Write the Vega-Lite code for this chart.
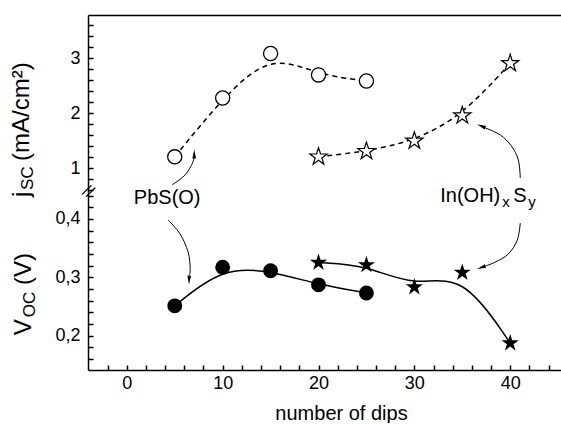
{
  "$schema": "https://vega.github.io/schema/vega-lite/v6.json",
  "background": "white",
  "padding": {"left": 10, "top": 15, "right": 0, "bottom": 0},
  "spacing": 0,
  "bounds": "flush",
  "config": {
    "view": {"stroke": null},
    "font": "Liberation Sans",
    "axis": {
      "grid": false,
      "domainColor": "black",
      "domainWidth": 1.5,
      "tickColor": "black",
      "tickWidth": 1.5,
      "labelColor": "black",
      "labelFont": "Liberation Sans",
      "labelFontSize": 18,
      "labelOverlap": false,
      "titleFont": "Liberation Sans",
      "titleFontSize": 20,
      "titleFontWeight": "normal",
      "titleColor": "black"
    }
  },
  "datasets": {
    "pts": [
      {"series": "PbS(O)", "dips": 5, "jsc": 1.21, "voc": 0.251},
      {"series": "PbS(O)", "dips": 10, "jsc": 2.28, "voc": 0.317},
      {"series": "PbS(O)", "dips": 15, "jsc": 3.09, "voc": 0.311},
      {"series": "PbS(O)", "dips": 20, "jsc": 2.70, "voc": 0.287},
      {"series": "PbS(O)", "dips": 25, "jsc": 2.59, "voc": 0.273},
      {"series": "In(OH)xSy", "dips": 20, "jsc": 1.21, "voc": 0.325},
      {"series": "In(OH)xSy", "dips": 25, "jsc": 1.31, "voc": 0.321},
      {"series": "In(OH)xSy", "dips": 30, "jsc": 1.50, "voc": 0.283},
      {"series": "In(OH)xSy", "dips": 35, "jsc": 1.96, "voc": 0.308},
      {"series": "In(OH)xSy", "dips": 40, "jsc": 2.91, "voc": 0.187}
    ],
    "arrowsTop": [
      {"a": "p", "i": 1, "dips": 4.73, "jsc": 0.699},
      {"a": "p", "i": 2, "dips": 5.98, "jsc": 0.863},
      {"a": "p", "i": 3, "dips": 6.71, "jsc": 1.045},
      {"a": "p", "i": 4, "dips": 7.03, "jsc": 1.19},
      {"a": "i", "i": 1, "dips": 41.05, "jsc": 0.826},
      {"a": "i", "i": 2, "dips": 40.85, "jsc": 1.154},
      {"a": "i", "i": 3, "dips": 40.12, "jsc": 1.408},
      {"a": "i", "i": 4, "dips": 38.97, "jsc": 1.608},
      {"a": "i", "i": 5, "dips": 37.40, "jsc": 1.735}
    ],
    "headsTop": [
      {"a": "p", "dips": 7.03, "jsc": 1.263},
      {"a": "i", "dips": 36.98, "jsc": 1.772}
    ],
    "arrowsBot": [
      {"a": "p", "i": 1, "dips": 4.31, "voc": 0.398},
      {"a": "p", "i": 2, "dips": 5.56, "voc": 0.374},
      {"a": "p", "i": 3, "dips": 6.40, "voc": 0.343},
      {"a": "p", "i": 4, "dips": 6.61, "voc": 0.3156},
      {"a": "p", "i": 5, "dips": 6.53, "voc": 0.303},
      {"a": "i", "i": 1, "dips": 41.05, "voc": 0.3928},
      {"a": "i", "i": 2, "dips": 40.74, "voc": 0.3637},
      {"a": "i", "i": 3, "dips": 39.80, "voc": 0.3397},
      {"a": "i", "i": 4, "dips": 38.44, "voc": 0.3259},
      {"a": "i", "i": 5, "dips": 37.40, "voc": 0.3191}
    ],
    "headsBot": [
      {"a": "p", "dips": 6.50, "voc": 0.2951},
      {"a": "i", "dips": 36.98, "voc": 0.3165}
    ],
    "notesTop": [
      {"role": "main", "t": "j", "dips": -10.19, "jsc": 0.481},
      {"role": "sub", "t": "SC", "dips": -9.77, "jsc": 0.608},
      {"role": "main", "t": "(mA/cm²)", "dips": -10.19, "jsc": 1.135},
      {"role": "break", "t": "//", "dips": -4.05, "jsc": 0.57}
    ],
    "notesBot": [
      {"role": "main", "t": "V", "dips": -9.99, "voc": 0.2007},
      {"role": "sub", "t": "OC", "dips": -9.57, "voc": 0.2316},
      {"role": "main", "t": "(V)", "dips": -9.99, "voc": 0.2865},
      {"role": "label", "t": "PbS(O)", "dips": 4.21, "voc": 0.4349},
      {"role": "lmain", "t": "In(OH)", "dips": 32.70, "voc": 0.4294},
      {"role": "lmain", "t": "S", "dips": 40.33, "voc": 0.4294},
      {"role": "lsub", "t": "x", "dips": 39.18, "voc": 0.4203},
      {"role": "lsub", "t": "y", "dips": 41.89, "voc": 0.4203}
    ]
  },
  "vconcat": [
    {
      "width": 473,
      "height": 177,
      "encoding": {
        "x": {
          "field": "dips", "type": "quantitative",
          "scale": {"domain": [-4.05, 45.3], "nice": false, "zero": false},
          "axis": {"orient": "top", "labels": false, "ticks": false, "title": null}
        },
        "y": {
          "field": "jsc", "type": "quantitative",
          "scale": {"domain": [0.57, 3.79], "nice": false, "zero": false},
          "axis": {
            "title": null,
            "values": [0.6, 0.8, 1, 1.2, 1.4, 1.6, 1.8, 2, 2.2, 2.4, 2.6, 2.8, 3, 3.2, 3.4, 3.6],
            "labelExpr": "abs(datum.value - round(datum.value)) < 0.001 ? format(datum.value, 'd') : ''",
            "tickSize": -5,
            "labelPadding": 13
          }
        }
      },
      "layer": [
        {
          "data": {"name": "pts"},
          "mark": {"type": "line", "interpolate": "basis", "strokeDash": [5, 4], "strokeWidth": 1.5, "color": "black"},
          "encoding": {"detail": {"field": "series"}}
        },
        {
          "data": {"name": "pts"},
          "transform": [{"filter": "datum.series === 'PbS(O)'"}],
          "mark": {"type": "point", "shape": "circle", "filled": true, "fill": "white", "stroke": "black", "strokeWidth": 1.3, "size": 200, "opacity": 1},
          "encoding": {}
        },
        {
          "data": {"name": "pts"},
          "transform": [{"filter": "datum.series !== 'PbS(O)'"}],
          "mark": {"type": "point", "shape": "M0,-1L0.225,-0.309L0.951,-0.309L0.363,0.118L0.588,0.809L0,0.382L-0.588,0.809L-0.363,0.118L-0.951,-0.309L-0.225,-0.309Z", "filled": true, "fill": "white", "stroke": "black", "strokeWidth": 1.2, "size": 330, "opacity": 1},
          "encoding": {}
        },
        {
          "data": {"name": "arrowsTop"},
          "mark": {"type": "line", "interpolate": "cardinal", "strokeWidth": 1, "color": "black"},
          "encoding": {"detail": {"field": "a"}, "order": {"field": "i", "type": "quantitative"}}
        },
        {
          "data": {"name": "headsTop"},
          "transform": [{"filter": "datum.a === 'p'"}],
          "mark": {"type": "point", "shape": "M0,-1L0.42,1L-0.42,1Z", "filled": true, "color": "black", "opacity": 1, "size": 80, "angle": 0},
          "encoding": {}
        },
        {
          "data": {"name": "headsTop"},
          "transform": [{"filter": "datum.a === 'i'"}],
          "mark": {"type": "point", "shape": "M0,-1L0.42,1L-0.42,1Z", "filled": true, "color": "black", "opacity": 1, "size": 80, "angle": 293},
          "encoding": {}
        },
        {
          "data": {"name": "notesTop"},
          "transform": [{"filter": "datum.role === 'main'"}],
          "mark": {"type": "text", "angle": 270, "align": "left", "baseline": "alphabetic", "fontSize": 24, "font": "Liberation Sans", "color": "black"},
          "encoding": {"text": {"field": "t"}}
        },
        {
          "data": {"name": "notesTop"},
          "transform": [{"filter": "datum.role === 'sub'"}],
          "mark": {"type": "text", "angle": 270, "align": "left", "baseline": "alphabetic", "fontSize": 17, "font": "Liberation Sans", "color": "black"},
          "encoding": {"text": {"field": "t"}}
        },
        {
          "data": {"name": "notesTop"},
          "transform": [{"filter": "datum.role === 'break'"}],
          "mark": {"type": "text", "angle": 30, "align": "center", "baseline": "middle", "fontSize": 17, "font": "Liberation Sans", "color": "black"},
          "encoding": {"text": {"field": "t"}}
        }
      ]
    },
    {
      "width": 473,
      "height": 178,
      "encoding": {
        "x": {
          "field": "dips", "type": "quantitative",
          "scale": {"domain": [-4.05, 45.3], "nice": false, "zero": false},
          "axis": {
            "title": "number of dips",
            "titleX": 253,
            "titlePadding": 11,
            "values": [-2, 0, 2, 4, 6, 8, 10, 12, 14, 16, 18, 20, 22, 24, 26, 28, 30, 32, 34, 36, 38, 40, 42, 44],
            "labelExpr": "datum.value % 10 === 0 ? datum.label : ''",
            "tickSize": -5,
            "labelPadding": 9
          }
        },
        "y": {
          "field": "voc", "type": "quantitative",
          "scale": {"domain": [0.141, 0.446], "nice": false, "zero": false},
          "axis": {
            "title": null,
            "values": [0.16, 0.18, 0.2, 0.22, 0.24, 0.26, 0.28, 0.3, 0.32, 0.34, 0.36, 0.38, 0.4, 0.42, 0.44],
            "labelExpr": "abs(datum.value - 0.2) < 0.001 ? '0,2' : abs(datum.value - 0.3) < 0.001 ? '0,3' : abs(datum.value - 0.4) < 0.001 ? '0,4' : ''",
            "tickSize": -5,
            "labelPadding": 13
          }
        }
      },
      "layer": [
        {
          "data": {"name": "pts"},
          "mark": {"type": "line", "interpolate": "basis", "strokeWidth": 1.5, "color": "black"},
          "encoding": {"detail": {"field": "series"}}
        },
        {
          "data": {"name": "pts"},
          "transform": [{"filter": "datum.series === 'PbS(O)'"}],
          "mark": {"type": "point", "shape": "circle", "filled": true, "color": "black", "size": 220, "opacity": 1},
          "encoding": {}
        },
        {
          "data": {"name": "pts"},
          "transform": [{"filter": "datum.series !== 'PbS(O)'"}],
          "mark": {"type": "point", "shape": "M0,-1L0.225,-0.309L0.951,-0.309L0.363,0.118L0.588,0.809L0,0.382L-0.588,0.809L-0.363,0.118L-0.951,-0.309L-0.225,-0.309Z", "filled": true, "color": "black", "size": 330, "opacity": 1},
          "encoding": {}
        },
        {
          "data": {"name": "arrowsBot"},
          "mark": {"type": "line", "interpolate": "cardinal", "strokeWidth": 1, "color": "black"},
          "encoding": {"detail": {"field": "a"}, "order": {"field": "i", "type": "quantitative"}}
        },
        {
          "data": {"name": "headsBot"},
          "transform": [{"filter": "datum.a === 'p'"}],
          "mark": {"type": "point", "shape": "M0,-1L0.42,1L-0.42,1Z", "filled": true, "color": "black", "opacity": 1, "size": 80, "angle": 182},
          "encoding": {}
        },
        {
          "data": {"name": "headsBot"},
          "transform": [{"filter": "datum.a === 'i'"}],
          "mark": {"type": "point", "shape": "M0,-1L0.42,1L-0.42,1Z", "filled": true, "color": "black", "opacity": 1, "size": 80, "angle": 250},
          "encoding": {}
        },
        {
          "data": {"name": "notesBot"},
          "transform": [{"filter": "datum.role === 'main'"}],
          "mark": {"type": "text", "angle": 270, "align": "left", "baseline": "alphabetic", "fontSize": 24, "font": "Liberation Sans", "color": "black"},
          "encoding": {"text": {"field": "t"}}
        },
        {
          "data": {"name": "notesBot"},
          "transform": [{"filter": "datum.role === 'sub'"}],
          "mark": {"type": "text", "angle": 270, "align": "left", "baseline": "alphabetic", "fontSize": 17, "font": "Liberation Sans", "color": "black"},
          "encoding": {"text": {"field": "t"}}
        },
        {
          "data": {"name": "notesBot"},
          "transform": [{"filter": "datum.role === 'label'"}],
          "mark": {"type": "text", "align": "center", "baseline": "middle", "fontSize": 20, "font": "Liberation Sans", "color": "black"},
          "encoding": {"text": {"field": "t"}}
        },
        {
          "data": {"name": "notesBot"},
          "transform": [{"filter": "datum.role === 'lmain'"}],
          "mark": {"type": "text", "align": "left", "baseline": "alphabetic", "fontSize": 20, "font": "Liberation Sans", "color": "black"},
          "encoding": {"text": {"field": "t"}}
        },
        {
          "data": {"name": "notesBot"},
          "transform": [{"filter": "datum.role === 'lsub'"}],
          "mark": {"type": "text", "align": "left", "baseline": "alphabetic", "fontSize": 15, "font": "Liberation Sans", "color": "black"},
          "encoding": {"text": {"field": "t"}}
        }
      ]
    }
  ]
}
